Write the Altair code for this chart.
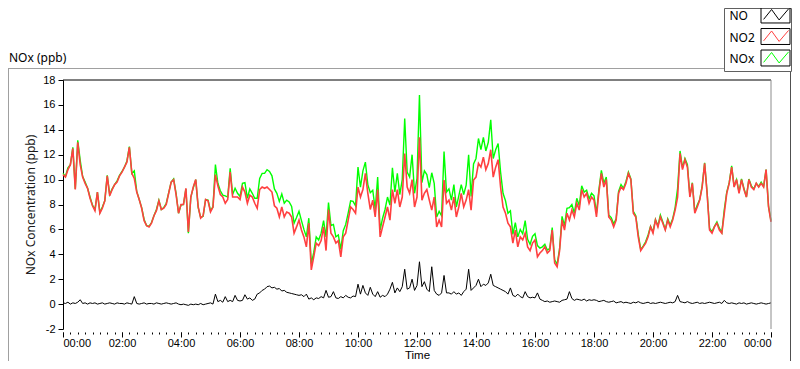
import altair as alt
import pandas as pd

FONT = "Noto Sans"
TICK_FONT = "Liberation Sans"

series_names = ["NO", "NO2", "NOx"]
series_colors = ["#000000", "#ff4040", "#00ff00"]
hour_ticks = list(range(0, 25, 2))
quarter_ticks = [q / 4 for q in range(0, 97)]
conc_ticks = list(range(-2, 19, 2))

# NO2 (ppb), one reading every 5 minutes from 00:00 to 24:00
no2 = [
    10.4, 10.2, 10.8, 11.2, 12.5, 9.2, 13.0, 11.2, 10.2, 9.7, 9.3, 8.5,
    7.9, 7.5, 9.0, 7.3, 7.7, 8.3, 10.3, 8.7, 9.2, 9.6, 9.8, 10.3,
    10.6, 11.0, 11.4, 12.6, 10.5, 10.1, 9.0, 8.4, 7.7, 6.7, 6.3, 6.2,
    6.5, 7.1, 7.5, 8.3, 7.6, 7.7, 8.0, 8.9, 9.8, 10.0, 8.8, 7.3,
    8.0, 8.0, 9.3, 5.8, 8.6, 9.4, 10.0, 7.8, 6.9, 7.1, 8.4, 8.3,
    7.4, 7.8, 10.4, 9.5, 8.8, 8.6, 8.1, 8.4, 10.6, 8.6, 8.6, 8.6,
    8.4, 9.4, 9.0, 8.1, 8.75, 8.6, 8.1, 7.7, 9.2, 9.4, 9.3, 9.4,
    9.2, 9.0, 7.9, 7.7, 7.0, 7.8, 7.0, 7.4, 7.3, 7.0, 5.7, 6.2,
    6.75, 5.95, 5.4, 4.6, 6.5, 2.75, 3.8, 4.9, 4.7, 5.1, 6.2, 4.3,
    7.6, 5.7, 5.4, 4.9, 5.1, 3.8, 5.4, 5.7, 6.75, 7.8, 7.6, 7.3,
    9.4, 8.6, 9.2, 10.5, 8.9, 7.6, 8.35, 7.0, 9.2, 5.4, 6.2, 7.0,
    7.8, 6.75, 9.2, 8.1, 9.2, 7.8, 8.6, 12.1, 9.4, 8.9, 10.0, 7.8,
    8.6, 13.4, 8.35, 8.9, 9.2, 8.35, 7.55, 8.6, 6.2, 6.75, 6.2, 9.96,
    8.1, 8.35, 7.55, 8.6, 7.0, 7.8, 8.9, 7.8, 8.35, 9.2, 7.55, 9.96,
    10.2, 11.3, 11.0, 11.8, 10.8, 11.3, 12.4, 10.2, 11.0, 11.6, 9.4, 7.8,
    7.3, 6.5, 6.2, 4.9, 5.95, 4.6, 5.4, 5.15, 5.7, 4.6, 4.3, 4.9,
    5.15, 3.8, 4.1, 4.3, 4.6, 4.1, 4.3, 5.95, 3.3, 3.0, 4.3, 6.75,
    5.95, 7.3, 6.75, 7.55, 7.0, 8.1, 7.55, 9.2, 8.6, 8.9, 8.1, 8.6,
    8.35, 7.0, 9.0, 10.5, 9.4, 10.0, 7.0, 6.75, 6.2, 6.75, 8.9, 9.4,
    9.2, 9.7, 10.5, 10.0, 7.3, 7.0, 5.4, 4.3, 4.6, 4.9, 5.4, 6.2,
    5.7, 6.75, 6.2, 7.0, 6.5, 5.95, 6.75, 6.2, 6.75, 7.55, 8.6, 12.1,
    10.8, 11.6, 11.0, 8.6, 9.7, 7.3, 7.8, 8.35, 9.4, 11.3, 8.9, 5.95,
    5.7, 6.2, 6.5, 5.95, 5.7, 7.3, 8.9, 9.7, 11.0, 9.4, 10.0, 8.9,
    10.0, 9.2, 8.6, 10.0, 9.4, 9.2, 9.7, 9.4, 9.7, 9.4, 10.8, 7.8,
    6.6,
]

# NO (ppb), same 5-minute readings
no = [
    0.1, 0.05, 0.15, 0.0, 0.1, 0.05, 0.15, 0.35, 0.05, 0.1, 0.0, 0.1,
    0.05, 0.1, 0.0, 0.05, 0.1, 0.0, 0.05, 0.1, 0.05, 0.0, 0.1, 0.05,
    0.05, 0.0, 0.1, 0.05, 0.0, 0.6, 0.05, 0.0, 0.05, 0.1, 0.0, 0.05,
    0.05, 0.0, 0.1, 0.05, 0.0, 0.05, 0.1, 0.05, 0.0, 0.05, 0.1, 0.0,
    -0.05, 0.0, -0.05, -0.1, 0.0, -0.05, 0.0, -0.05, 0.05, -0.05, 0.0, 0.05,
    0.1, 0.0, 0.8, 0.2, 0.3, 0.15, 0.6, 0.2, 0.3, 0.2, 0.7, 0.3,
    0.25, 0.3, 0.75, 0.4, 0.5, 0.3, 0.4, 0.8, 0.9, 1.1, 1.2, 1.4,
    1.45, 1.3, 1.35, 1.2, 1.25, 1.05, 1.1, 0.95, 0.9, 0.85, 0.8, 0.75,
    0.7, 0.75, 0.6, 0.8, 0.4, 0.5, 0.35, 0.5, 0.45, 0.6, 0.5, 1.1,
    0.55, 0.6, 1.0, 0.5, 0.45, 0.6, 0.5, 0.7, 0.55, 0.5, 0.65, 0.6,
    1.6, 0.8, 1.5, 0.9, 0.7, 1.35, 0.8, 0.6, 1.0, 0.55, 0.7, 0.6,
    0.8, 1.2, 1.75, 0.9, 1.3, 1.0, 1.4, 2.8, 1.2, 1.3, 2.0, 1.1,
    1.5, 3.4, 1.4, 1.8, 1.2, 1.0, 3.0, 1.1, 0.8, 0.7, 0.9, 2.3,
    0.9, 0.9, 0.8, 1.0, 0.8, 0.9, 0.7, 1.0, 1.2, 2.8, 1.1, 1.3,
    1.5, 2.0, 1.4, 1.6, 1.5, 1.7, 2.4, 1.5, 1.4, 1.3, 1.2, 1.1,
    1.0, 0.8, 1.3, 0.7, 0.6, 0.8, 0.6, 0.5, 1.0, 0.6, 0.5, 0.55,
    0.5, 0.9, 0.4, 0.3, 0.2, 0.25, 0.15, 0.2, 0.25, 0.2, 0.15, 0.3,
    0.35, 0.4, 1.0, 0.45, 0.3, 0.4, 0.35, 0.3, 0.4, 0.25, 0.35, 0.3,
    0.35, 0.3, 0.2, 0.25, 0.3, 0.2, 0.15, 0.2, 0.25, 0.1, 0.15, 0.2,
    0.1, 0.15, 0.1, 0.05, 0.15, 0.1, 0.2, 0.1, 0.05, 0.1, 0.15, 0.05,
    0.1, 0.05, 0.1, 0.15, 0.1, 0.05, 0.1, 0.15, 0.1, 0.2, 0.7, 0.2,
    0.15, 0.1, 0.2, 0.1, 0.05, 0.1, 0.15, 0.05, 0.1, 0.05, 0.1, 0.15,
    0.1, 0.05, 0.1, 0.15, 0.05, 0.3, 0.1, 0.05, 0.1, 0.05, 0.0, 0.1,
    0.05, 0.1, 0.0, 0.05, 0.1, 0.05, 0.0, 0.05, 0.1, 0.05, 0.0, 0.05,
    0.1,
]

step_minutes = 5
t_hours = [k * step_minutes / 60 for k in range(len(no2))]
# NOx is by definition NO + NO2
nox = [round(a + b, 2) for a, b in zip(no2, no)]

df = pd.DataFrame({"t": t_hours, "NO": no, "NO2": no2, "NOx": nox})

W, H = 708, 249
xs = alt.Scale(domain=[0, 24], nice=False, zero=False)
ys = alt.Scale(domain=[-2, 18], nice=False, zero=False)

major_x = alt.Axis(
    orient="bottom", values=hour_ticks,
    labelExpr="(datum.value % 24 < 10 ? '0' : '') + (datum.value % 24) + ':00'",
    domain=False, tickSize=5, tickColor="black", offset=3, labelPadding=0,
    labelFont=TICK_FONT, labelFontSize=11, labelColor="black",
    title="Time", titleFont=TICK_FONT, titleFontSize=11.5, titleFontWeight="normal",
    titleColor="black", titleY=26.3, titleBaseline="alphabetic",
)
minor_x = alt.Axis(
    orient="bottom", values=quarter_ticks, labels=False, domain=False,
    tickSize=2, tickColor="black", offset=3, title="",
)
y_axis = alt.Axis(
    values=conc_ticks, labelExpr="'' + datum.value",
    domain=True, domainColor="black", tickColor="black", tickSize=5,
    labelPadding=3, labelFont=TICK_FONT, labelFontSize=11, labelColor="black",
    title="NOx Concentration (ppb)", titleFont=FONT, titleFontSize=12,
    titleFontWeight="normal", titleColor="#1a1a1a", titleX=-33, titleY=H / 2,
    titleAngle=270, titleBaseline="middle", titleAlign="center",
)

base = alt.Chart(df)
green = base.mark_line(color=series_colors[2], strokeWidth=1.4).encode(
    x=alt.X("t:Q", scale=xs, axis=major_x),
    y=alt.Y("NOx:Q", scale=ys, axis=y_axis),
)
red = base.mark_line(color=series_colors[1], strokeWidth=1.6).encode(
    x=alt.X("t:Q", scale=xs, axis=minor_x),
    y=alt.Y("NO2:Q", scale=ys, axis=y_axis),
)
black = base.mark_line(color=series_colors[0], strokeWidth=1).encode(
    x=alt.X("t:Q", scale=xs, axis=None),
    y=alt.Y("NO:Q", scale=ys, axis=y_axis),
)

one = pd.DataFrame({"k": [0]})
deco = alt.Chart(one)

plot_top = deco.mark_rule(color="black", strokeWidth=1).encode(
    x=alt.value(0), x2=alt.value(W), y=alt.value(0))
plot_right = deco.mark_rule(color="#8c8c8c", strokeWidth=1).encode(
    x=alt.value(W), y=alt.value(0), y2=alt.value(H))
frame_top = deco.mark_rule(color="#a0a0a0", strokeWidth=1).encode(
    x=alt.value(-55), x2=alt.value(661), y=alt.value(-11.5))
frame_left = deco.mark_rule(color="#a0a0a0", strokeWidth=1).encode(
    x=alt.value(-54.5), y=alt.value(-11.5), y2=alt.value(281))
frame_right = deco.mark_rule(color="#505050", strokeWidth=1).encode(
    x=alt.value(727.5), y=alt.value(-8), y2=alt.value(281))

header = deco.mark_text(text="NOx (ppb)", align="left", baseline="alphabetic",
                        font=FONT, fontSize=12, color="black").encode(
    x=alt.value(-54), y=alt.value(-18))

legend_box = deco.mark_rect(fill="white", stroke="#606060", strokeWidth=1).encode(
    x=alt.value(661.5), x2=alt.value(728.5), y=alt.value(-71.5), y2=alt.value(-8.5))

BOX_PATH = "M-1,-0.55H1V0.55H-1Z"
ZIG_PATH = "M-0.82,0.3L-0.27,-0.38L0.25,0.34L0.9,-0.42"
text_rows = [-64, -42.5, -21]
box_rows = [-65, -43.5, -22]

legend_layers = []
for name, color, ty, by in zip(series_names, series_colors, text_rows, box_rows):
    legend_layers.append(
        deco.mark_text(text=name, align="left", baseline="middle", font=FONT,
                       fontSize=12, color="black").encode(
            x=alt.value(666.5), y=alt.value(ty)))
    legend_layers.append(
        deco.mark_point(shape=BOX_PATH, size=841, filled=False, color="black",
                        stroke="black", strokeWidth=1, opacity=1).encode(
            x=alt.value(712.5), y=alt.value(by)))
    legend_layers.append(
        deco.mark_point(shape=ZIG_PATH, size=841, filled=False, color=color,
                        stroke=color, strokeWidth=1, opacity=1).encode(
            x=alt.value(712.5), y=alt.value(by)))

chart = alt.layer(
    green, red, black, plot_top, plot_right,
    frame_top, frame_left, frame_right, header, legend_box, *legend_layers,
).resolve_axis(x="independent").properties(
    width=W, height=H,
    padding={"left": 55, "top": 72, "right": 21, "bottom": 32},
    autosize=alt.AutoSizeParams(type="none"),
    background="white",
).configure_view(strokeWidth=0).configure_axis(grid=False)

chart.save("out.html", embed_options={"renderer": "svg", "actions": False})
